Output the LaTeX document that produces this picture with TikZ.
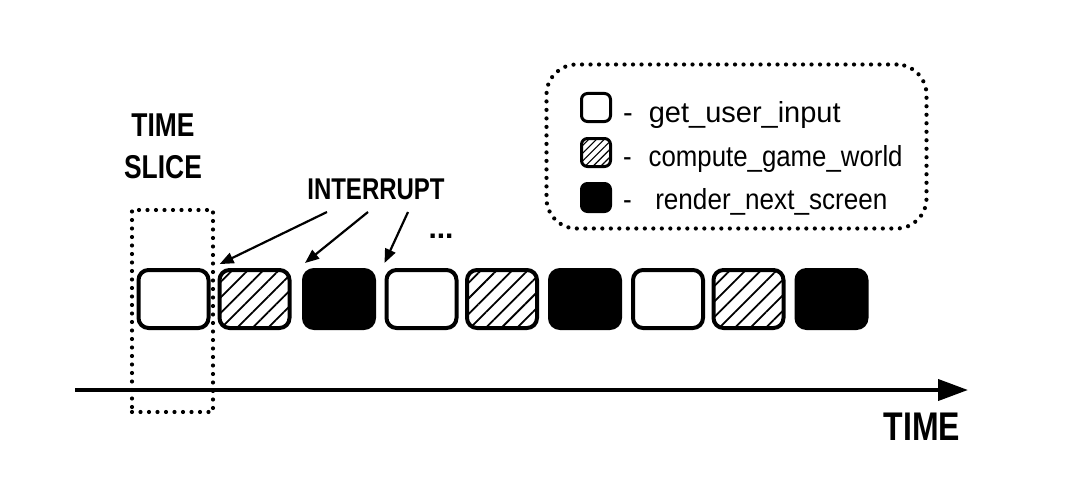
\documentclass[tikz,border=0pt]{standalone}
\usepackage{fontspec}
\setmainfont{Liberation Sans}
\usetikzlibrary{arrows.meta,patterns.meta}
\begin{document}
\begin{tikzpicture}[x=1pt,y=-1pt,
  blk/.style={draw,line width=4pt,rounded corners=10pt,minimum width=70pt,minimum height=58pt,inner sep=0pt},
  ubox/.style={blk,fill=white},
  hbox/.style={blk,pattern={Lines[angle=45,distance=11pt,line width=1.8pt]}},
  fbox/.style={blk,fill=black},
  lblk/.style={draw,line width=3pt,rounded corners=6pt,minimum width=29pt,minimum height=28pt,inner sep=0pt},
  lubox/.style={lblk,fill=white},
  lhbox/.style={lblk,pattern={Lines[angle=45,distance=5.5pt,line width=1.1pt]}},
  lfbox/.style={lblk,fill=black},
  dotframe/.style={draw,line width=4.2pt,line cap=round,dash pattern=on 0pt off 8.5pt},
  caps/.style={font=\bfseries\fontsize{33}{34}\selectfont,inner sep=0pt},
  legtext/.style={font=\fontsize{29}{30}\selectfont,inner sep=0pt,anchor=base west},
  iarrow/.style={line width=2.2pt,-{Triangle[length=14pt,width=11pt]}},
  axis/.style={line width=4pt,-{Triangle[length=30pt,width=21pt]}}
]
\useasboundingbox (0,0) rectangle (1080,487);
\fill[white] (0,0) rectangle (1080,487);

% legend frame
\node[dotframe,rounded corners=30pt,minimum width=380pt,minimum height=164pt] (leg) at (736.5,146.5) {};
\node[lubox] (l1) at (596,107.5) {};
\node[lhbox] (l2) at (596,152.5) {};
\node[lfbox] (l3) at (596,197.5) {};
\node[legtext] (t1) at (623,122) {-\hspace{16pt}get\_user\_input};
\node[legtext] (t2) at (623,166) {\scalebox{0.89}[1]{-\hspace{19pt}compute\_game\_world}};
\node[legtext] (t3) at (623,209) {\scalebox{0.9}[1]{-\hspace{26pt}render\_next\_screen}};

% time slice frame
\node[dotframe,minimum width=81pt,minimum height=202pt,inner sep=0pt] (slice) at (172.5,311) {};
\node[caps,align=center] (tsl) at (163,146) {\scalebox{0.8}[1]{TIME}\\[8pt]\scalebox{0.8}[1]{SLICE}};

% boxes
\node[ubox] (b1) at (173.5,299) {};
\node[hbox] (b2) at (254.5,299) {};
\node[fbox] (b3) at (339,299) {};
\node[ubox] (b4) at (421.5,299) {};
\node[hbox] (b5) at (502,299) {};
\node[fbox] (b6) at (585,299) {};
\node[ubox] (b7) at (668,299) {};
\node[hbox] (b8) at (748.5,299) {};
\node[fbox] (b9) at (831.5,299) {};

% interrupt
\node[caps,font=\bfseries\fontsize{30}{32}\selectfont] (int) at (376,189) {\scalebox{0.8}[1]{INTERRUPT}};
\coordinate (a1) at (327,212);
\coordinate (a2) at (368,212);
\coordinate (a3) at (408,212);
\draw[iarrow] (a1) -- ([shift={(1,-5)}]b2.north west);
\draw[iarrow] (a2) -- ([shift={(3,-5)}]b3.north west);
\draw[iarrow] (a3) -- ([shift={(0,-5)}]b4.north west);
\node[font=\bfseries\fontsize{30}{32}\selectfont,inner sep=0pt] (dots) at (441,236) {...};

% axis
\coordinate (ax0) at (75,390);
\coordinate (ax1) at (968,390);
\draw[axis] (ax0) -- (ax1);
\node[caps,font=\bfseries\fontsize{40}{42}\selectfont] (tlab) at (922,427) {\scalebox{0.8}[1]{TIME}};
\end{tikzpicture}
\end{document}
